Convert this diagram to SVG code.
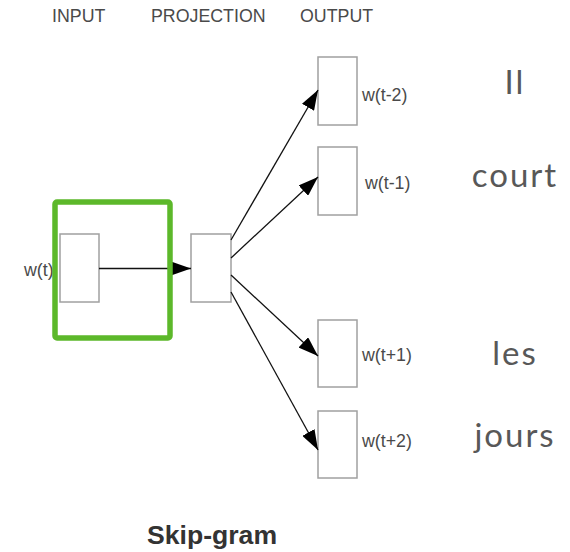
<svg xmlns="http://www.w3.org/2000/svg" width="570" height="552" viewBox="0 0 570 552">
  <defs>
    <marker id="arrow" viewBox="0 0 20 14" refX="20" refY="7" markerWidth="20" markerHeight="14" markerUnits="userSpaceOnUse" orient="auto">
      <path d="M0,0 L20,7 L0,14 Z" fill="#000"/>
    </marker>
    <style>
      .head { font-family: "Liberation Sans", Arial, sans-serif; font-size: 17.8px; fill: #4a4a4a; }
      .lbl { font-family: "Liberation Sans", Arial, sans-serif; font-size: 17.8px; fill: #4a4a4a; }
      .word { font-family: Lato, "Open Sans", sans-serif; font-size: 33px; letter-spacing: 2px; fill: #585858; text-anchor: middle; }
      .title { font-family: "Liberation Sans", Arial, sans-serif; font-size: 26.6px; font-weight: bold; fill: #333; }
      .unit { fill: #fff; stroke: #a0a0a0; stroke-width: 1.5; }
      .edge { stroke: #111; stroke-width: 1.3; fill: none; marker-end: url(#arrow); }
    </style>
  </defs>
  <rect width="570" height="552" fill="#fff"/>

  <!-- column headers -->
  <g id="headers">
    <text class="head" x="52" y="22">INPUT</text>
    <text class="head" x="151" y="22">PROJECTION</text>
    <text class="head" x="300" y="22">OUTPUT</text>
  </g>

  <!-- input word -->
  <g id="input">
    <rect class="unit" x="60" y="234" width="39" height="68"/>
    <text class="lbl" x="24" y="276">w(t)</text>
  </g>

  <!-- projection layer -->
  <g id="projection">
    <rect class="unit" x="191" y="234" width="40" height="68"/>
  </g>

  <!-- output context words -->
  <g id="out-t-2">
    <rect class="unit" x="318" y="57" width="39" height="68"/>
    <text class="lbl" x="362" y="101">w(t-2)</text>
  </g>
  <g id="out-t-1">
    <rect class="unit" x="318" y="147" width="39" height="68"/>
    <text class="lbl" x="365" y="189">w(t-1)</text>
  </g>
  <g id="out-t+1">
    <rect class="unit" x="318" y="320" width="39" height="67"/>
    <text class="lbl" x="362" y="361">w(t+1)</text>
  </g>
  <g id="out-t+2">
    <rect class="unit" x="318" y="411" width="39" height="67"/>
    <text class="lbl" x="362" y="447">w(t+2)</text>
  </g>

  <!-- connectors -->
  <g id="connectors">
    <line class="edge" x1="99" y1="268.5" x2="191" y2="268.5"/>
    <line class="edge" x1="231" y1="240" x2="318" y2="90"/>
    <line class="edge" x1="231" y1="258" x2="318" y2="177"/>
    <line class="edge" x1="231" y1="275" x2="318" y2="356"/>
    <line class="edge" x1="231" y1="292" x2="318" y2="450"/>
  </g>

  <!-- highlight around the input word -->
  <g id="highlight">
    <rect x="55" y="202" width="115" height="136" rx="2" fill="none" stroke="#5cb82a" stroke-width="5.5"/>
  </g>

  <!-- example sentence -->
  <g id="sentence">
    <text class="word" x="515" y="94">Il</text>
    <text class="word" x="515" y="187">court</text>
    <text class="word" x="515" y="365">les</text>
    <text class="word" x="515" y="447">jours</text>
  </g>

  <text class="title" x="147" y="544">Skip-gram</text>
</svg>
